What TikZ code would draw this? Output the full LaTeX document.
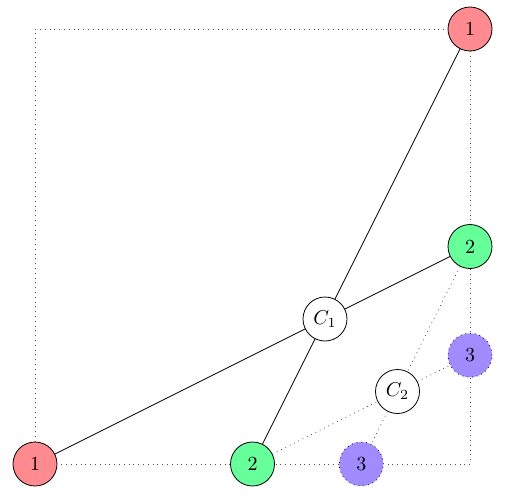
\documentclass[tikz,border=0pt]{standalone}
\definecolor{nred}{RGB}{255,138,143}
\definecolor{ngreen}{RGB}{102,255,153}
\definecolor{npurple}{RGB}{160,140,255}
\begin{document}
\begin{tikzpicture}[x=54.375pt,y=54.375pt,
  vtx/.style={circle,draw,minimum size=22pt,inner sep=0pt},
  redv/.style={vtx,fill=nred},
  greenv/.style={vtx,fill=ngreen},
  purplev/.style={vtx,fill=npurple,dotted},
  cen/.style={vtx,fill=white},
  frame/.style={dotted,black!70},
  link/.style={black},
  dlink/.style={dotted,black!70}]
\useasboundingbox (-17.5pt,-15pt) rectangle (235.5pt,232pt);
\node[redv] (r0) at (0,0) {1};
\node[redv] (r1) at (4,4) {1};
\node[greenv] (g0) at (2,0) {2};
\node[greenv] (g1) at (4,2) {2};
\node[purplev] (p0) at (3,0) {3};
\node[purplev] (p1) at (4,1) {3};
\node[cen] (c1) at (8/3,4/3) {$C_1$};
\node[cen] (c2) at (10/3,2/3) {$C_2$};
\coordinate (tl) at (0,4);
\coordinate (br) at (4,0);
\draw[frame] (r0) -- (tl) -- (r1);
\draw[frame] (r1) -- (g1);
\draw[frame] (g1) -- (p1);
\draw[frame] (p1) -- (br) -- (p0);
\draw[frame] (p0) -- (g0);
\draw[frame] (g0) -- (r0);
\draw[link] (r0) -- (c1);
\draw[link] (c1) -- (g1);
\draw[link] (r1) -- (c1);
\draw[link] (c1) -- (g0);
\draw[dlink] (g0) -- (c2);
\draw[dlink] (c2) -- (p1);
\draw[dlink] (g1) -- (c2);
\draw[dlink] (c2) -- (p0);
\end{tikzpicture}
\end{document}
